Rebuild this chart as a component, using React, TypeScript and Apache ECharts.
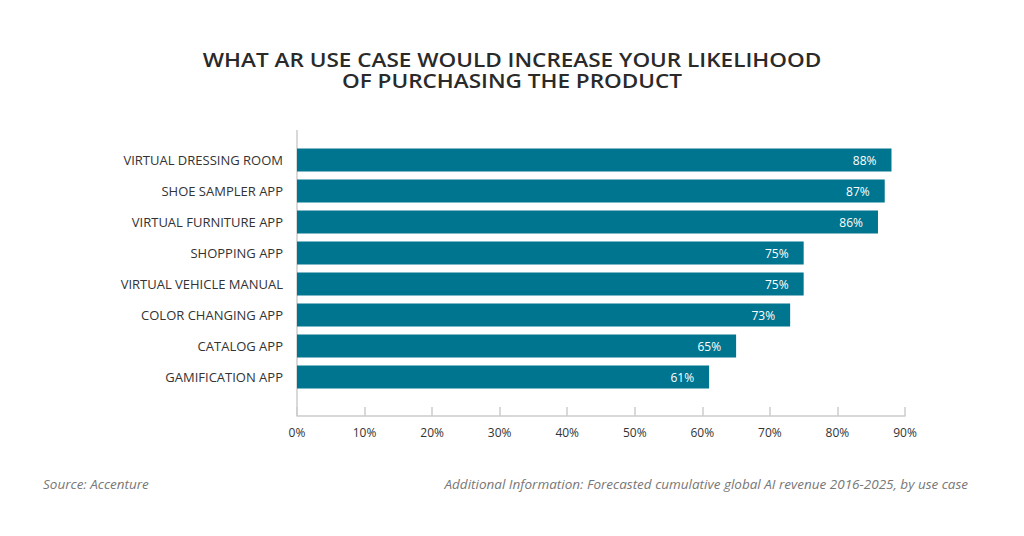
import React, { useEffect, useRef } from "react";
import * as echarts from "echarts";

const categories = [
  "VIRTUAL DRESSING ROOM",
  "SHOE SAMPLER APP",
  "VIRTUAL FURNITURE APP",
  "SHOPPING APP",
  "VIRTUAL VEHICLE MANUAL",
  "COLOR CHANGING APP",
  "CATALOG APP",
  "GAMIFICATION APP",
];
const values = [88, 87, 86, 75, 75, 73, 65, 61];
const xTicks = { min: 0, max: 90, interval: 10 };
const titleLines = [
  "WHAT AR USE CASE WOULD INCREASE YOUR LIKELIHOOD",
  "OF PURCHASING THE PRODUCT",
];

const FONT = "'Open Sans', sans-serif";

export default function App() {
  const ref = useRef<HTMLDivElement>(null);
  useEffect(() => {
    if (!ref.current) return;
    const chart = echarts.init(ref.current, null, { renderer: "svg" });
    chart.setOption({
      animation: false,
      backgroundColor: "#ffffff",
      grid: { left: 297, right: 119, top: 144.5, bottom: 143.5, containLabel: false },
      xAxis: {
        type: "value",
        min: xTicks.min,
        max: xTicks.max,
        interval: xTicks.interval,
        offset: 23.5,
        axisLine: { show: true, lineStyle: { color: "#cccccc", width: 1.5 } },
        axisTick: { show: true, inside: true, length: 9, lineStyle: { color: "#cccccc", width: 1.5 } },
        splitLine: { show: false },
        axisLabel: {
          formatter: "{value}%",
          color: "#333333",
          fontFamily: FONT,
          fontSize: 12,
          margin: 10,
        },
      },
      yAxis: {
        type: "category",
        data: categories,
        inverse: true,
        axisLine: { show: false },
        axisTick: { show: false },
        axisLabel: {
          color: "#333333",
          fontFamily: FONT,
          fontSize: 13,
          margin: 14,
        },
      },
      graphic: [
        ...titleLines.map((t, i) => ({
          type: "text",
          x: 512,
          y: 59 + i * 21,
          scaleX: 1.1,
          style: {
            text: t,
            fill: "#2a2a2a",
            font: `600 20.5px ${FONT}`,
            textAlign: "center",
            textVerticalAlign: "middle",
          },
        })),
        {
          type: "line",
          shape: { x1: 297, y1: 130, x2: 297, y2: 416 },
          style: { stroke: "#cccccc", lineWidth: 1.5 },
          z: 1,
        },
        {
          type: "text",
          left: 43,
          top: 477,
          style: {
            text: "Source: Accenture",
            fill: "#777777",
            font: `italic 13.5px ${FONT}`,
          },
        },
        {
          type: "text",
          right: 56,
          top: 477,
          style: {
            text: "Additional Information: Forecasted cumulative global AI revenue 2016-2025, by use case",
            fill: "#777777",
            font: `italic 13.5px ${FONT}`,
          },
        },
      ],
      series: [
        {
          type: "bar",
          data: values,
          barWidth: 23,
          itemStyle: { color: "#007590" },
          label: {
            show: true,
            position: "insideRight",
            formatter: "{c}%",
            color: "#ffffff",
            fontFamily: FONT,
            fontSize: 12,
            distance: 10,
            offset: [-5, 0],
          },
        },
      ],
    });
    return () => chart.dispose();
  }, []);
  return <div ref={ref} style={{ width: 1024, height: 536, position: "absolute", left: 0, top: 0 }} />;
}
